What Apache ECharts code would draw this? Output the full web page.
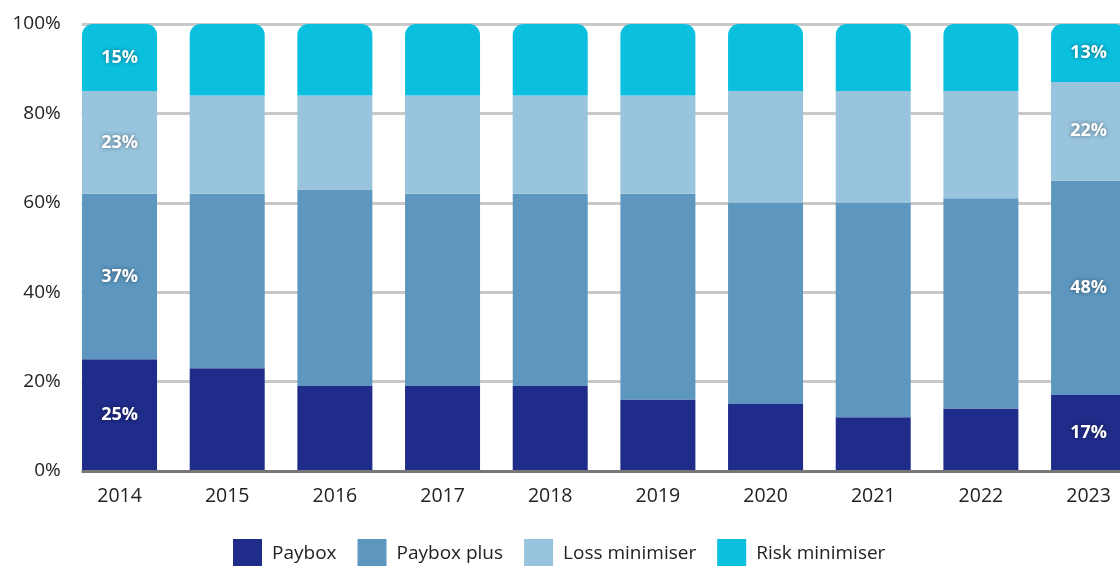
<!DOCTYPE html>
<html>
<head>
<meta charset="utf-8">
<script src="https://cdn.jsdelivr.net/npm/echarts@6/dist/echarts.min.js"></script>
<style>
  html, body { margin: 0; padding: 0; background: #fff; }
  #root { width: 1120px; height: 566px; }
</style>
</head>
<body>
<div id="root"></div>
<script>
const years = ['2014', '2015', '2016', '2017', '2018', '2019', '2020', '2021', '2022', '2023']
const payboxVals = [25, 23, 19, 19, 19, 16, 15, 12, 14, 17]
const payboxPlusVals = [37, 39, 44, 43, 43, 46, 45, 48, 47, 48]
const lossMinVals = [23, 22, 21, 22, 22, 22, 25, 25, 24, 22]
const riskMinVals = [15, 16, 16, 16, 16, 16, 15, 15, 15, 13]
const labelledYears = ['2014', '2023']

const font = 'Open Sans'

// only the first and last columns carry value labels
const withLabels = (vals) => vals.map((v, i) => ({
  value: v,
  label: { show: labelledYears.includes(years[i]) }
}))

const makeSeries = (name, vals, color, radius) => ({
  name: name,
  type: 'bar',
  stack: 'total',
  barWidth: 75,
  data: withLabels(vals),
  itemStyle: { color: color, borderRadius: radius || 0 },
  label: {
    position: 'inside',
    formatter: '{c}%',
    color: '#fff',
    fontFamily: font,
    fontWeight: 'bold',
    fontSize: 18,
    textShadowColor: 'rgba(0,0,0,0.45)',
    textShadowBlur: 4
  },
  emphasis: { disabled: true }
})

const chart = echarts.init(document.getElementById('root'))

chart.setOption({
  animation: false,
  backgroundColor: '#fff',
  grid: {
    left: 65.7, right: -22.4, top: 24, bottom: 95,
    containLabel: false,
    outerBoundsMode: 'none'
  },
  xAxis: {
    type: 'category',
    data: years,
    axisTick: { show: false },
    axisLine: { show: true, lineStyle: { color: '#777', width: 3 } },
    axisLabel: { color: '#222', fontFamily: font, fontSize: 19.5, margin: 15 },
    z: 5
  },
  yAxis: {
    type: 'value',
    min: 0,
    max: 100,
    interval: 20,
    axisLine: { show: false },
    axisTick: { show: false },
    axisLabel: { formatter: '{value}%', color: '#222', fontFamily: font, fontSize: 19, margin: 5 },
    splitLine: { lineStyle: { color: '#c8c8c8', width: 3 } }
  },
  legend: {
    top: 534,
    left: 228,
    itemWidth: 29,
    itemHeight: 29,
    itemGap: 21,
    icon: 'rect',
    textStyle: { color: '#222', fontFamily: font, fontSize: 19, padding: [0, 0, 0, 5] },
    data: ['Paybox', 'Paybox plus', 'Loss minimiser', 'Risk minimiser']
  },
  // gridlines in the source begin at the first bar's edge
  graphic: [{
    type: 'rect',
    z: 100,
    shape: { x: 64, y: 14, width: 17.6, height: 464 },
    style: { fill: '#fff' }
  }],
  series: [
    makeSeries('Paybox', payboxVals, '#1f2c89'),
    makeSeries('Paybox plus', payboxPlusVals, '#5d97bf'),
    makeSeries('Loss minimiser', lossMinVals, '#98c4de'),
    makeSeries('Risk minimiser', riskMinVals, '#0bc0df', [11, 11, 0, 0])
  ]
})
</script>
</body>
</html>
